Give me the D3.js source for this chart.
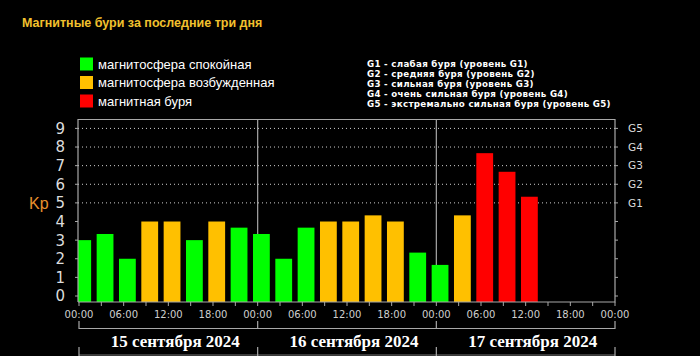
<!DOCTYPE html>
<html><head><meta charset="utf-8">
<script src="https://cdn.jsdelivr.net/npm/d3@7"></script>
<style>html,body{margin:0;padding:0;background:#000;}svg{display:block;}</style>
</head><body>
<svg id="c" width="700" height="356"></svg>
<script>
// ---- data ----
const titleText = "Магнитные бури за последние три дня";
const slotHours = [0,3,6,9,12,15,18,21,24,27,30,33,36,39,42,45,48,51,54,57,60];
const kpValues  = [3,3.33,2,4,4,3,4,3.67, 3.33,2,3.67,4,4,4.33,4,2.33, 1.67,4.33,7.67,6.67,5.33];
const dayLabels = ["15 сентября 2024","16 сентября 2024","17 сентября 2024"];
const timeTicks = [0,6,12,18,24,30,36,42,48,54,60,66,72];
const timeTickLabels = ["00:00","06:00","12:00","18:00","00:00","06:00","12:00","18:00","00:00","06:00","12:00","18:00","00:00"];
const kpTicks = [0,1,2,3,4,5,6,7,8,9];
const gLevels = [5,6,7,8,9];
const gLabels = ["G1","G2","G3","G4","G5"];
const legendLabels = ["магнитосфера спокойная","магнитосфера возбужденная","магнитная буря"];
const legendColors = ["#00ff00","#ffc000","#ff0000"];
const gLegend = [
  "G1 - слабая буря (уровень G1)",
  "G2 - средняя буря (уровень G2)",
  "G3 - сильная буря (уровень G3)",
  "G4 - очень сильная буря (уровень G4)",
  "G5 - экстремально сильная буря (уровень G5)"
];

// ---- layout ----
const svg = d3.select("#c");
const L = 78, R = 615, T = 119.5, B = 302;
const x = d3.scaleLinear().domain([0,72]).range([79,615]);
const y = d3.scaleLinear().domain([0,9]).range([296,128.4]);
const colorOf = v => v >= 5 ? legendColors[2] : (v >= 4 ? legendColors[1] : legendColors[0]);
const grid = "#a8a8a8";

svg.append("rect").attr("width",700).attr("height",356).attr("fill","#000");

// title
svg.append("text").attr("x",22).attr("y",27).text(titleText)
  .attr("fill","#f2c12e").attr("font-family","Liberation Sans, Arial, sans-serif")
  .attr("font-weight","bold").attr("font-size",12.5);

// legend
const lg = svg.append("g");
legendLabels.forEach((t,i)=>{
  lg.append("rect").attr("x",80).attr("y",57.5+i*18.5).attr("width",13).attr("height",13).attr("fill",legendColors[i]);
  lg.append("text").attr("x",98).attr("y",64+i*18.5).attr("dy","0.35em").text(t)
    .attr("fill","#fff").attr("font-family","Liberation Sans, Arial, sans-serif").attr("font-size",13);
});
gLegend.forEach((t,i)=>{
  svg.append("text").attr("x",367).attr("y",63.5+i*10.2).attr("dy","0.35em").text(t)
    .attr("fill","#fff").attr("font-family","DejaVu Sans, Verdana, sans-serif")
    .attr("font-weight","bold").attr("font-size",8.7).attr("letter-spacing",0.3);
});

// dotted gridlines
svg.append("g").selectAll("line").data(gLevels).join("line")
  .attr("x1",L).attr("x2",R).attr("y1",d=>y(d)).attr("y2",d=>y(d))
  .attr("stroke","#d0d0d0").attr("stroke-width",1).attr("stroke-dasharray","1,3");

// day separators
svg.append("g").selectAll("line").data([24,48]).join("line")
  .attr("x1",d=>x(d)).attr("x2",d=>x(d)).attr("y1",T).attr("y2",B)
  .attr("stroke",grid).attr("stroke-width",1.2);

// bars
svg.append("clipPath").attr("id","pc").append("rect").attr("x",L).attr("y",T).attr("width",R-L).attr("height",B-T);
const bw = 16.8;
svg.append("g").attr("clip-path","url(#pc)").selectAll("rect").data(kpValues).join("rect")
  .attr("x",(d,i)=>x(slotHours[i]+0.5)-bw/2).attr("width",bw)
  .attr("y",d=>y(d)).attr("height",d=>B-y(d))
  .attr("fill",d=>colorOf(d));

// frame
svg.append("path").attr("d",`M${L},${B}V${T}H${R}V${B}H${L}`)
  .attr("fill","none").attr("stroke",grid).attr("stroke-width",1.2);

// left axis labels & ticks
const fnt = "DejaVu Sans, Verdana, sans-serif";
svg.append("g").selectAll("text").data(kpTicks).join("text")
  .attr("x",65).attr("y",d=>y(d)).attr("dy","0.36em").attr("text-anchor","end").text(d=>d)
  .attr("fill","#dcdcdc").attr("font-family",fnt).attr("font-size",15);
svg.append("g").selectAll("line").data(kpTicks).join("line")
  .attr("x1",L-3).attr("x2",L).attr("y1",d=>y(d)).attr("y2",d=>y(d)).attr("stroke",grid);
svg.append("g").selectAll("line").data(kpTicks).join("line")
  .attr("x1",R).attr("x2",R+3).attr("y1",d=>y(d)).attr("y2",d=>y(d)).attr("stroke",grid);
svg.append("text").attr("x",29).attr("y",y(5)+1).attr("dy","0.35em").text("Kp")
  .attr("fill","#e8902e").attr("font-family","Liberation Sans, Arial, sans-serif").attr("font-size",16);

// right G labels
svg.append("g").selectAll("text").data(gLevels).join("text")
  .attr("x",628).attr("y",d=>y(d)).attr("dy","0.36em").text((d,i)=>gLabels[i])
  .attr("fill","#dcdcdc").attr("font-family",fnt).attr("font-size",10.5);

// bottom 3h ticks
svg.append("g").selectAll("line").data(d3.range(0,73,3)).join("line")
  .attr("x1",d=>x(d)).attr("x2",d=>x(d)).attr("y1",B).attr("y2",B+4).attr("stroke",grid);

// time labels
svg.append("g").selectAll("text").data(timeTicks).join("text")
  .attr("x",d=>x(d)).attr("y",314).attr("dy","0.36em").attr("text-anchor","middle")
  .text((d,i)=>timeTickLabels[i])
  .attr("fill","#cfcfcf").attr("font-family",fnt).attr("font-size",10);

// date band
const dayB = [0,24,48,72];
svg.append("line").attr("x1",x(0)).attr("x2",x(72)).attr("y1",328.5).attr("y2",328.5).attr("stroke",grid).attr("stroke-width",1.2);
svg.append("line").attr("x1",x(0)).attr("x2",x(72)).attr("y1",355).attr("y2",355).attr("stroke","#777").attr("stroke-width",1);
svg.append("g").selectAll("line").data(dayB).join("line")
  .attr("x1",d=>x(d)).attr("x2",d=>x(d)).attr("y1",321).attr("y2",329).attr("stroke",grid).attr("stroke-width",1.2);
svg.append("g").selectAll("line").data(dayB).join("line")
  .attr("x1",d=>x(d)).attr("x2",d=>x(d)).attr("y1",347).attr("y2",356).attr("stroke",grid).attr("stroke-width",1.2);
svg.append("g").selectAll("text").data(dayLabels).join("text")
  .attr("x",(d,i)=>x(i*24+12)+7).attr("y",341).attr("dy","0.36em").attr("text-anchor","middle").text(d=>d)
  .attr("fill","#fff").attr("font-family","Liberation Serif, Times New Roman, serif")
  .attr("font-weight","bold").attr("font-size",17);
</script>
</body></html>
